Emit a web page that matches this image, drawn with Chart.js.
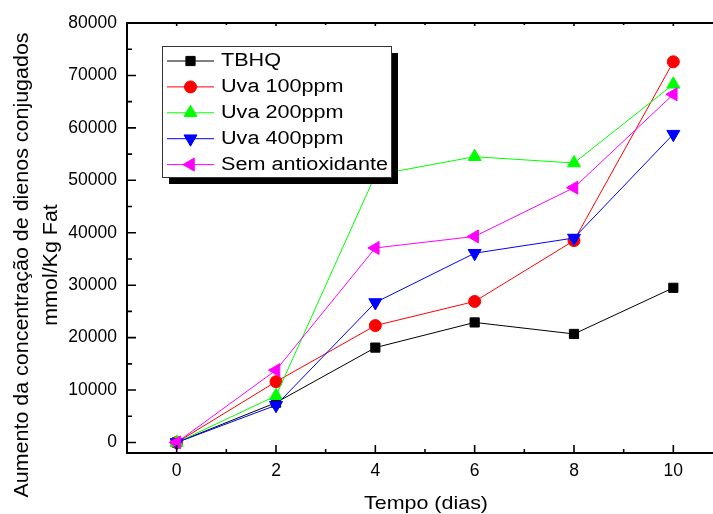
<!DOCTYPE html>
<html>
<head>
<meta charset="utf-8">
<script src="https://cdn.jsdelivr.net/npm/chart.js@4/dist/chart.umd.min.js"></script>
<style>
    html, body { margin: 0; padding: 0; background: #fff; overflow: hidden; }
    canvas { display: block; }
</style>
</head>
<body>
<canvas id="dienosChart" width="760" height="514"></canvas>
<script>
// Tempo (dias) e valores medidos para cada tratamento
const dias = [0, 2, 4, 6, 8, 10];
const tbhq = [0, 7600, 18100, 22900, 20700, 29500];
const uva100 = [0, 11600, 22300, 26900, 38500, 72600];
const uva200 = [0, 8900, 51000, 54500, 53300, 68300];
const uva400 = [0, 7100, 26700, 36100, 39000, 58800];
const semAntiox = [0, 13800, 37100, 39300, 48600, 66400];

const rotulos = ['TBHQ', 'Uva 100ppm', 'Uva 200ppm', 'Uva 400ppm', 'Sem antioxidante'];
const xTicks = [0, 2, 4, 6, 8, 10];
const yTicks = [0, 10000, 20000, 30000, 40000, 50000, 60000, 70000, 80000];

const FONTE = 'Arial, "Liberation Sans", sans-serif';

function serie(label, valores, cor, estilo, rot, raio) {
    return {
        label: label,
        data: dias.map((d, i) => ({ x: d, y: valores[i] })),
        borderColor: cor,
        backgroundColor: cor,
        borderWidth: 1,
        pointStyle: estilo,
        rotation: rot,
        pointRadius: raio,
        pointHoverRadius: raio,
        pointBorderWidth: 1,
        tension: 0
    };
}

const datasets = [
    serie(rotulos[0], tbhq, '#000000', 'rect', 0, 6.5),
    serie(rotulos[1], uva100, '#ff0000', 'circle', 0, 6),
    serie(rotulos[2], uva200, '#00ff00', 'triangle', 0, 7.5),
    serie(rotulos[3], uva400, '#0000ff', 'triangle', 180, 7.5),
    serie(rotulos[4], semAntiox, '#ff00ff', 'triangle', 270, 7.5)
];
// a ultima serie fica por cima
datasets.forEach((ds, i) => { ds.order = datasets.length - i; });

// eixos no estilo Origin: linhas grossas e marcas para dentro
const eixos = {
    id: 'eixos',
    afterDatasetsDraw(chart) {
        const ctx = chart.ctx;
        const a = chart.chartArea;
        const xs = chart.scales.x, ys = chart.scales.y;
        ctx.save();
        ctx.strokeStyle = '#000';
        ctx.lineWidth = 2;
        ctx.beginPath();
        ctx.moveTo(a.left, a.top);
        ctx.lineTo(a.left, a.bottom);
        ctx.lineTo(a.right, a.bottom);
        ctx.moveTo(a.left - 1, a.top);
        ctx.lineTo(a.right, a.top);
        ctx.stroke();

        ctx.lineWidth = 1.6;
        ctx.beginPath();
        yTicks.forEach(v => {
            const y = ys.getPixelForValue(v);
            ctx.moveTo(a.left, y); ctx.lineTo(a.left + 9, y);
            const m = ys.getPixelForValue(v + 5000);
            if (m > a.top + 2) { ctx.moveTo(a.left, m); ctx.lineTo(a.left + 5, m); }
        });
        xTicks.forEach(v => {
            const x = xs.getPixelForValue(v);
            ctx.moveTo(x, a.bottom); ctx.lineTo(x, a.bottom - 8);
            ctx.moveTo(x, a.top); ctx.lineTo(x, a.top + 3);
            const m = xs.getPixelForValue(v + 1);
            ctx.moveTo(m, a.bottom); ctx.lineTo(m, a.bottom - 4);
            ctx.moveTo(m, a.top); ctx.lineTo(m, a.top + 2);
        });
        ctx.stroke();
        ctx.restore();
    }
};

// legenda com sombra, desenhada sobre as curvas
const legenda = {
    id: 'legenda',
    afterDraw(chart) {
        const ctx = chart.ctx;
        const L = 162, T = 46, W = 229, H = 131;
        ctx.save();
        ctx.fillStyle = '#000';
        ctx.fillRect(L + 7, T + 7, W, H);
        ctx.fillStyle = '#fff';
        ctx.fillRect(L, T, W, H);
        ctx.strokeStyle = '#333';
        ctx.lineWidth = 1;
        ctx.strokeRect(L + 0.5, T + 0.5, W, H);

        chart.data.datasets.forEach((ds, i) => {
            const y = 61 + i * 25.9;
            ctx.strokeStyle = ds.borderColor;
            ctx.fillStyle = ds.backgroundColor;
            ctx.lineWidth = 1;
            ctx.beginPath();
            ctx.moveTo(167, y);
            ctx.lineTo(214, y);
            ctx.stroke();
            Chart.helpers.drawPoint(ctx, {
                pointStyle: ds.pointStyle,
                rotation: ds.rotation,
                radius: ds.pointRadius,
                borderWidth: 1
            }, 190.5, y);

            ctx.save();
            ctx.fillStyle = '#000';
            ctx.font = '18px ' + FONTE;
            ctx.textBaseline = 'middle';
            ctx.translate(221, y + 0.5);
            ctx.scale(1.2, 1);
            ctx.fillText(ds.label, 0, 0);
            ctx.restore();
        });
        ctx.restore();
    }
};

// titulos dos eixos
const titulos = {
    id: 'titulos',
    afterDraw(chart) {
        const ctx = chart.ctx;
        ctx.save();
        ctx.fillStyle = '#000';
        ctx.textAlign = 'center';
        ctx.textBaseline = 'alphabetic';

        ctx.save();
        ctx.font = '18.5px ' + FONTE;
        ctx.translate(426, 509);
        ctx.scale(1.16, 1);
        ctx.fillText('Tempo (dias)', 0, 0);
        ctx.restore();

        ctx.font = '19.5px ' + FONTE;
        [['Aumento da concentração de dienos conjugados', 28], ['mmol/Kg Fat', 57]].forEach(([txt, bx]) => {
            ctx.save();
            ctx.translate(bx, 265);
            ctx.rotate(-Math.PI / 2);
            ctx.scale(1.1, 1);
            ctx.fillText(txt, 0, 0);
            ctx.restore();
        });
        ctx.restore();
    }
};

new Chart(document.getElementById('dienosChart'), {
    type: 'line',
    data: { datasets: datasets },
    options: {
        responsive: false,
        animation: false,
        devicePixelRatio: 1,
        layout: { padding: { left: 0, top: 23, right: 37, bottom: 0 } },
        plugins: {
            legend: { display: false },
            tooltip: { enabled: false }
        },
        scales: {
            x: {
                type: 'linear',
                min: -1,
                max: 11,
                afterBuildTicks: s => { s.ticks = xTicks.map(v => ({ value: v })); },
                afterFit: s => { s.height = 61; },
                grid: { display: false, drawTicks: false },
                border: { display: false },
                ticks: {
                    color: '#000',
                    padding: 8,
                    maxRotation: 0,
                    font: { family: FONTE, size: 17.5 }
                }
            },
            y: {
                type: 'linear',
                min: -2000,
                max: 80000,
                afterBuildTicks: s => { s.ticks = yTicks.map(v => ({ value: v })); },
                afterFit: s => { s.width = 127; },
                grid: { display: false, drawTicks: false },
                border: { display: false },
                ticks: {
                    color: '#000',
                    padding: 10,
                    font: { family: FONTE, size: 17.5 },
                    callback: v => String(v)
                }
            }
        }
    },
    plugins: [eixos, legenda, titulos]
});
</script>
</body>
</html>
